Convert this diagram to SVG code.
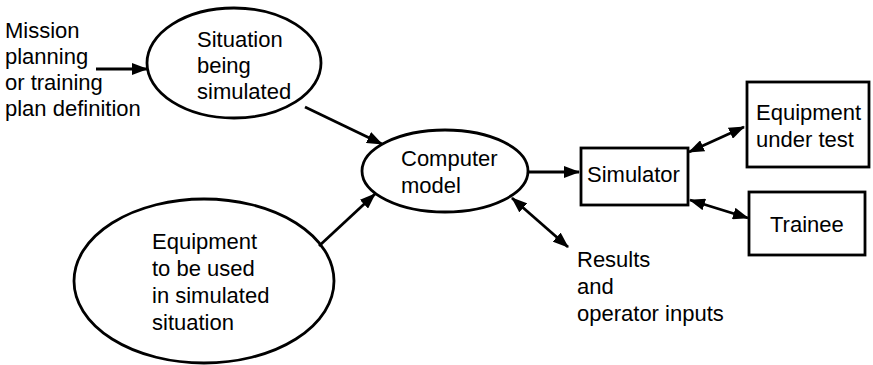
<svg xmlns="http://www.w3.org/2000/svg" width="873" height="365" viewBox="0 0 873 365">
<style>
.shape{fill:#fff;stroke:#000;stroke-width:2.8}
.conn{fill:none;stroke:#000;stroke-width:2.8}
text{font-family:"Liberation Sans",Arial,sans-serif;font-size:22px;fill:#000}
</style>
<defs>
<marker id="ah" viewBox="0 0 16 12" refX="15" refY="6" markerWidth="16" markerHeight="12" markerUnits="userSpaceOnUse" orient="auto-start-reverse">
<path d="M0,0 L16,6 L0,12 z" fill="#000"/>
</marker>
</defs>
<rect width="873" height="365" fill="#fff"/>
<g id="mission">
<text x="5" y="38">Mission</text>
<text x="5" y="64">planning</text>
<text x="5" y="90">or training</text>
<text x="5" y="116">plan definition</text>
</g>
<g id="situation">
<ellipse class="shape" cx="234" cy="63" rx="87" ry="55"/>
<text x="197" y="47">Situation</text>
<text x="197" y="73">being</text>
<text x="197" y="99">simulated</text>
</g>
<g id="computer">
<ellipse class="shape" cx="445" cy="171" rx="83" ry="41"/>
<text x="401" y="166">Computer</text>
<text x="401" y="193">model</text>
</g>
<g id="equipment">
<ellipse class="shape" cx="204" cy="281" rx="130" ry="82"/>
<text x="152" y="249">Equipment</text>
<text x="152" y="276">to be used</text>
<text x="152" y="303">in simulated</text>
<text x="152" y="330">situation</text>
</g>
<g id="simulator">
<rect class="shape" x="581" y="148" width="107" height="57"/>
<text x="587" y="182">Simulator</text>
</g>
<g id="eut">
<rect class="shape" x="747" y="82" width="122" height="85"/>
<text x="756" y="120">Equipment</text>
<text x="756" y="147">under test</text>
</g>
<g id="trainee">
<rect class="shape" x="749" y="192" width="116" height="63"/>
<text x="770" y="232">Trainee</text>
</g>
<g id="results">
<text x="577" y="267">Results</text>
<text x="577" y="294">and</text>
<text x="577" y="321">operator inputs</text>
</g>
<g id="connectors">
<path class="conn" d="M96,69 L147,69" marker-end="url(#ah)"/>
<path class="conn" d="M305,107 L382,144" marker-end="url(#ah)"/>
<path class="conn" d="M319,246 L375,194" marker-end="url(#ah)"/>
<path class="conn" d="M528,172 L579,172" marker-end="url(#ah)"/>
<path class="conn" d="M512,198 L568,247" marker-start="url(#ah)" marker-end="url(#ah)"/>
<path class="conn" d="M689,152 L744,127" marker-start="url(#ah)" marker-end="url(#ah)"/>
<path class="conn" d="M690,200 L748,218" marker-start="url(#ah)" marker-end="url(#ah)"/>
</g>
</svg>
